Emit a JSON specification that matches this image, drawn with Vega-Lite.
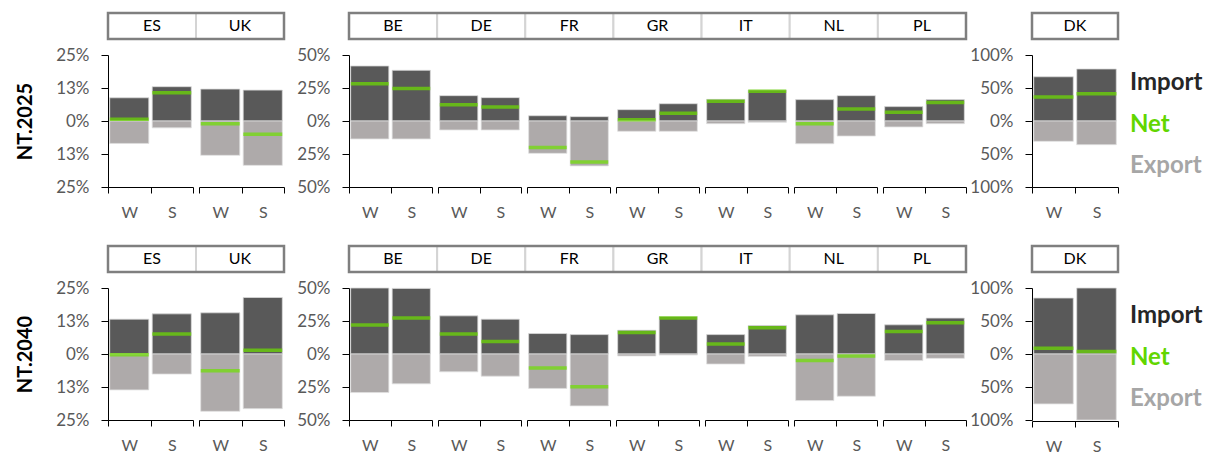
{
  "$schema": "https://vega.github.io/schema/vega-lite/v6.json",
  "padding": {"left": 15, "top": 11, "right": 5, "bottom": 0},
  "data": {"values": [
    {"scenario": "NT.2025", "country": "ES", "season": "W", "import": 8.8, "export": -8.5, "net": 0.7},
    {"scenario": "NT.2025", "country": "ES", "season": "S", "import": 13.0, "export": -2.6, "net": 10.7},
    {"scenario": "NT.2025", "country": "UK", "season": "W", "import": 12.1, "export": -13.0, "net": -1.0},
    {"scenario": "NT.2025", "country": "UK", "season": "S", "import": 11.7, "export": -16.8, "net": -5.0},
    {"scenario": "NT.2025", "country": "BE", "season": "W", "import": 41.7, "export": -13.6, "net": 28.3},
    {"scenario": "NT.2025", "country": "BE", "season": "S", "import": 38.4, "export": -13.6, "net": 24.7},
    {"scenario": "NT.2025", "country": "DE", "season": "W", "import": 19.2, "export": -6.8, "net": 12.4},
    {"scenario": "NT.2025", "country": "DE", "season": "S", "import": 17.7, "export": -6.8, "net": 10.6},
    {"scenario": "NT.2025", "country": "FR", "season": "W", "import": 4.0, "export": -24.5, "net": -20.0},
    {"scenario": "NT.2025", "country": "FR", "season": "S", "import": 3.3, "export": -34.0, "net": -31.0},
    {"scenario": "NT.2025", "country": "GR", "season": "W", "import": 8.6, "export": -7.8, "net": 1.0},
    {"scenario": "NT.2025", "country": "GR", "season": "S", "import": 13.1, "export": -7.8, "net": 5.8},
    {"scenario": "NT.2025", "country": "IT", "season": "W", "import": 16.4, "export": -2.0, "net": 14.9},
    {"scenario": "NT.2025", "country": "IT", "season": "S", "import": 23.5, "export": -1.0, "net": 22.5},
    {"scenario": "NT.2025", "country": "NL", "season": "W", "import": 16.2, "export": -17.2, "net": -2.0},
    {"scenario": "NT.2025", "country": "NL", "season": "S", "import": 19.2, "export": -11.4, "net": 9.1},
    {"scenario": "NT.2025", "country": "PL", "season": "W", "import": 10.9, "export": -4.5, "net": 6.6},
    {"scenario": "NT.2025", "country": "PL", "season": "S", "import": 16.2, "export": -2.0, "net": 14.1},
    {"scenario": "NT.2025", "country": "DK", "season": "W", "import": 67.0, "export": -30.8, "net": 36.4},
    {"scenario": "NT.2025", "country": "DK", "season": "S", "import": 78.8, "export": -35.9, "net": 41.4},
    {"scenario": "NT.2040", "country": "ES", "season": "W", "import": 13.2, "export": -13.6, "net": -0.3},
    {"scenario": "NT.2040", "country": "ES", "season": "S", "import": 15.2, "export": -7.6, "net": 7.6},
    {"scenario": "NT.2040", "country": "UK", "season": "W", "import": 15.6, "export": -21.7, "net": -6.3},
    {"scenario": "NT.2040", "country": "UK", "season": "S", "import": 21.4, "export": -20.7, "net": 1.4},
    {"scenario": "NT.2040", "country": "BE", "season": "W", "import": 50.0, "export": -29.2, "net": 22.0},
    {"scenario": "NT.2040", "country": "BE", "season": "S", "import": 49.7, "export": -22.6, "net": 27.2},
    {"scenario": "NT.2040", "country": "DE", "season": "W", "import": 28.9, "export": -13.5, "net": 15.2},
    {"scenario": "NT.2040", "country": "DE", "season": "S", "import": 26.4, "export": -16.8, "net": 9.4},
    {"scenario": "NT.2040", "country": "FR", "season": "W", "import": 15.5, "export": -26.1, "net": -10.7},
    {"scenario": "NT.2040", "country": "FR", "season": "S", "import": 14.7, "export": -39.3, "net": -24.9},
    {"scenario": "NT.2040", "country": "GR", "season": "W", "import": 18.0, "export": -1.5, "net": 16.2},
    {"scenario": "NT.2040", "country": "GR", "season": "S", "import": 28.4, "export": -0.8, "net": 27.2},
    {"scenario": "NT.2040", "country": "IT", "season": "W", "import": 14.7, "export": -7.6, "net": 7.6},
    {"scenario": "NT.2040", "country": "IT", "season": "S", "import": 21.6, "export": -1.8, "net": 19.8},
    {"scenario": "NT.2040", "country": "NL", "season": "W", "import": 29.7, "export": -35.3, "net": -5.0},
    {"scenario": "NT.2040", "country": "NL", "season": "S", "import": 30.7, "export": -32.0, "net": -1.5},
    {"scenario": "NT.2040", "country": "PL", "season": "W", "import": 22.1, "export": -5.0, "net": 17.0},
    {"scenario": "NT.2040", "country": "PL", "season": "S", "import": 27.2, "export": -3.3, "net": 23.6},
    {"scenario": "NT.2040", "country": "DK", "season": "W", "import": 84.8, "export": -75.6, "net": 8.6},
    {"scenario": "NT.2040", "country": "DK", "season": "S", "import": 100.0, "export": -100.0, "net": 3.6}
  ]},
  "config": {
    "font": "Lato",
    "view": {"stroke": null},
    "axisX": {"domainColor": "#000000", "tickColor": "#000000", "tickSize": 6, "labelColor": "#595959", "labelFontSize": 16, "labelPadding": 11, "labelAngle": 0, "grid": false},
    "axisY": {"domainColor": "#000000", "tickColor": "#000000", "tickSize": 7, "labelColor": "#595959", "labelFontSize": 17, "labelPadding": 12, "grid": false}
  },
  "spacing": 24,
  "vconcat": [
    {
      "spacing": 10,
      "hconcat": [
        {
          "spacing": 1,
          "hconcat": [
            {
              "spacing": 10,
              "hconcat": [
                {
                  "spacing": 5,
                  "vconcat": [
                    {
                      "width": 176, "height": 26,
                      "transform": [{"filter": "datum.scenario == 'NT.2025' && datum.season == 'W' && indexof(['ES','UK'], datum.country) >= 0"}],
                      "layer": [
                        {"mark": {"type": "rect", "fill": "#ffffff", "stroke": "#d4d4d4", "strokeWidth": 2}, "encoding": {"x": {"field": "country", "type": "nominal", "scale": {"paddingInner": 0, "paddingOuter": 0}, "axis": null}}},
                        {"mark": {"type": "text", "fontSize": 16, "color": "#000000"}, "encoding": {"x": {"field": "country", "type": "nominal", "axis": null}, "text": {"field": "country"}}},
                        {"transform": [{"aggregate": [{"op": "count", "as": "n"}]}], "mark": {"type": "rect", "fillOpacity": 0, "stroke": "#7f7f7f", "strokeWidth": 2.5}, "encoding": {}}
                      ]
                    },
                    {
                      "transform": [{"filter": "datum.scenario == 'NT.2025' && indexof(['ES','UK'], datum.country) >= 0"}],
                      "facet": {"column": {"field": "country", "type": "nominal", "header": null}},
                      "spacing": {"column": 6},
                      "spec": {
                        "width": 85, "height": 132,
                        "encoding": {"x": {"field": "season", "type": "nominal", "sort": ["W", "S"], "title": null, "scale": {"paddingInner": 0, "paddingOuter": 0}, "axis": {"tickBand": "extent"}}},
                        "layer": [
                          {"mark": {"type": "bar", "color": "#595959", "stroke": "#d9d9d9", "strokeWidth": 0.8, "width": {"band": 0.92}},
                           "encoding": {"y": {"field": "import", "type": "quantitative", "scale": {"domain": [-25, 25], "nice": false}, "axis": {"values": [-25, -12.5, 0, 12.5, 25], "labelExpr": "format(abs(datum.value), '.0f') + '%'", "title": "NT.2025", "titleFontSize": 20, "titleFontWeight": "bold", "titleColor": "#000000", "titlePadding": 20}}}},
                          {"mark": {"type": "bar", "color": "#aeaaaa", "stroke": "#e0e0e0", "strokeWidth": 0.8, "width": {"band": 0.92}},
                           "encoding": {"y": {"field": "export", "type": "quantitative", "axis": {"values": [-25, -12.5, 0, 12.5, 25], "labelExpr": "format(abs(datum.value), '.0f') + '%'", "title": "NT.2025", "titleFontSize": 20, "titleFontWeight": "bold", "titleColor": "#000000", "titlePadding": 20}}}},
                          {"mark": {"type": "tick", "color": "#6ee000", "thickness": 3.5, "size": 39, "orient": "horizontal"},
                           "encoding": {"y": {"field": "net", "type": "quantitative", "axis": {"values": [-25, -12.5, 0, 12.5, 25], "labelExpr": "format(abs(datum.value), '.0f') + '%'", "title": "NT.2025", "titleFontSize": 20, "titleFontWeight": "bold", "titleColor": "#000000", "titlePadding": 20}}}}
                        ]
                      }
                    }
                  ]
                },
                {
                  "spacing": 5,
                  "vconcat": [
                    {
                      "width": 617, "height": 26,
                      "transform": [{"filter": "datum.scenario == 'NT.2025' && datum.season == 'W' && indexof(['BE','DE','FR','GR','IT','NL','PL'], datum.country) >= 0"}],
                      "layer": [
                        {"mark": {"type": "rect", "fill": "#ffffff", "stroke": "#d4d4d4", "strokeWidth": 2}, "encoding": {"x": {"field": "country", "type": "nominal", "scale": {"paddingInner": 0, "paddingOuter": 0}, "axis": null}}},
                        {"mark": {"type": "text", "fontSize": 16, "color": "#000000"}, "encoding": {"x": {"field": "country", "type": "nominal", "axis": null}, "text": {"field": "country"}}},
                        {"transform": [{"aggregate": [{"op": "count", "as": "n"}]}], "mark": {"type": "rect", "fillOpacity": 0, "stroke": "#7f7f7f", "strokeWidth": 2.5}, "encoding": {}}
                      ]
                    },
                    {
                      "transform": [{"filter": "datum.scenario == 'NT.2025' && indexof(['BE','DE','FR','GR','IT','NL','PL'], datum.country) >= 0"}],
                      "facet": {"column": {"field": "country", "type": "nominal", "header": null}},
                      "spacing": {"column": 6},
                      "spec": {
                        "width": 83, "height": 132,
                        "encoding": {"x": {"field": "season", "type": "nominal", "sort": ["W", "S"], "title": null, "scale": {"paddingInner": 0, "paddingOuter": 0}, "axis": {"tickBand": "extent"}}},
                        "layer": [
                          {"mark": {"type": "bar", "color": "#595959", "stroke": "#d9d9d9", "strokeWidth": 0.8, "width": {"band": 0.92}},
                           "encoding": {"y": {"field": "import", "type": "quantitative", "scale": {"domain": [-50, 50], "nice": false}, "axis": {"values": [-50, -25, 0, 25, 50], "labelExpr": "format(abs(datum.value), '.0f') + '%'", "title": null}}}},
                          {"mark": {"type": "bar", "color": "#aeaaaa", "stroke": "#e0e0e0", "strokeWidth": 0.8, "width": {"band": 0.92}},
                           "encoding": {"y": {"field": "export", "type": "quantitative", "axis": {"values": [-50, -25, 0, 25, 50], "labelExpr": "format(abs(datum.value), '.0f') + '%'", "title": null}}}},
                          {"mark": {"type": "tick", "color": "#6ee000", "thickness": 3.5, "size": 38, "orient": "horizontal"},
                           "encoding": {"y": {"field": "net", "type": "quantitative", "axis": {"values": [-50, -25, 0, 25, 50], "labelExpr": "format(abs(datum.value), '.0f') + '%'", "title": null}}}}
                        ]
                      }
                    }
                  ]
                }
              ]
            },
            {
              "spacing": 5,
              "vconcat": [
                {
                  "width": 86, "height": 26,
                  "transform": [{"filter": "datum.scenario == 'NT.2025' && datum.season == 'W' && datum.country == 'DK'"}],
                  "layer": [
                    {"mark": {"type": "rect", "fill": "#ffffff", "stroke": "#d4d4d4", "strokeWidth": 2}, "encoding": {"x": {"field": "country", "type": "nominal", "scale": {"paddingInner": 0, "paddingOuter": 0}, "axis": null}}},
                    {"mark": {"type": "text", "fontSize": 16, "color": "#000000"}, "encoding": {"x": {"field": "country", "type": "nominal", "axis": null}, "text": {"field": "country"}}},
                    {"transform": [{"aggregate": [{"op": "count", "as": "n"}]}], "mark": {"type": "rect", "fillOpacity": 0, "stroke": "#7f7f7f", "strokeWidth": 2.5}, "encoding": {}}
                  ]
                },
                {
                  "transform": [{"filter": "datum.scenario == 'NT.2025' && datum.country == 'DK'"}],
                  "facet": {"column": {"field": "country", "type": "nominal", "header": null}},
                  "spacing": {"column": 6},
                  "spec": {
                    "width": 86, "height": 132,
                    "encoding": {"x": {"field": "season", "type": "nominal", "sort": ["W", "S"], "title": null, "scale": {"paddingInner": 0, "paddingOuter": 0}, "axis": {"tickBand": "extent"}}},
                    "layer": [
                      {"mark": {"type": "bar", "color": "#595959", "stroke": "#d9d9d9", "strokeWidth": 0.8, "width": {"band": 0.92}},
                       "encoding": {"y": {"field": "import", "type": "quantitative", "scale": {"domain": [-100, 100], "nice": false}, "axis": {"values": [-100, -50, 0, 50, 100], "labelExpr": "format(abs(datum.value), '.0f') + '%'", "title": null}}}},
                      {"mark": {"type": "bar", "color": "#aeaaaa", "stroke": "#e0e0e0", "strokeWidth": 0.8, "width": {"band": 0.92}},
                       "encoding": {"y": {"field": "export", "type": "quantitative", "axis": {"values": [-100, -50, 0, 50, 100], "labelExpr": "format(abs(datum.value), '.0f') + '%'", "title": null}}}},
                      {"mark": {"type": "tick", "color": "#6ee000", "thickness": 3.5, "size": 40, "orient": "horizontal"},
                       "encoding": {"y": {"field": "net", "type": "quantitative", "axis": {"values": [-100, -50, 0, 50, 100], "labelExpr": "format(abs(datum.value), '.0f') + '%'", "title": null}}}}
                    ]
                  }
                }
              ]
            }
          ]
        },
        {
          "width": 78, "height": 175,
          "data": {"values": [{"label": "Import"}, {"label": "Net"}, {"label": "Export"}]},
          "mark": {"type": "text", "fontSize": 24, "fontWeight": "bold", "align": "left", "baseline": "middle"},
          "encoding": {
            "x": {"value": 0},
            "y": {"field": "label", "type": "nominal", "sort": ["Import", "Net", "Export"], "scale": {"type": "point", "range": [70, 153], "padding": 0}, "axis": null},
            "text": {"field": "label"},
            "color": {"field": "label", "type": "nominal", "scale": {"domain": ["Import", "Net", "Export"], "range": ["#262626", "#62d600", "#a6a6a6"]}, "legend": null}
          }
        }
      ]
    },
    {
      "spacing": 10,
      "hconcat": [
        {
          "spacing": 1,
          "hconcat": [
            {
              "spacing": 10,
              "hconcat": [
                {
                  "spacing": 5,
                  "vconcat": [
                    {
                      "width": 176, "height": 26,
                      "transform": [{"filter": "datum.scenario == 'NT.2040' && datum.season == 'W' && indexof(['ES','UK'], datum.country) >= 0"}],
                      "layer": [
                        {"mark": {"type": "rect", "fill": "#ffffff", "stroke": "#d4d4d4", "strokeWidth": 2}, "encoding": {"x": {"field": "country", "type": "nominal", "scale": {"paddingInner": 0, "paddingOuter": 0}, "axis": null}}},
                        {"mark": {"type": "text", "fontSize": 16, "color": "#000000"}, "encoding": {"x": {"field": "country", "type": "nominal", "axis": null}, "text": {"field": "country"}}},
                        {"transform": [{"aggregate": [{"op": "count", "as": "n"}]}], "mark": {"type": "rect", "fillOpacity": 0, "stroke": "#7f7f7f", "strokeWidth": 2.5}, "encoding": {}}
                      ]
                    },
                    {
                      "transform": [{"filter": "datum.scenario == 'NT.2040' && indexof(['ES','UK'], datum.country) >= 0"}],
                      "facet": {"column": {"field": "country", "type": "nominal", "header": null}},
                      "spacing": {"column": 6},
                      "spec": {
                        "width": 85, "height": 132,
                        "encoding": {"x": {"field": "season", "type": "nominal", "sort": ["W", "S"], "title": null, "scale": {"paddingInner": 0, "paddingOuter": 0}, "axis": {"tickBand": "extent"}}},
                        "layer": [
                          {"mark": {"type": "bar", "color": "#595959", "stroke": "#d9d9d9", "strokeWidth": 0.8, "width": {"band": 0.92}},
                           "encoding": {"y": {"field": "import", "type": "quantitative", "scale": {"domain": [-25, 25], "nice": false}, "axis": {"values": [-25, -12.5, 0, 12.5, 25], "labelExpr": "format(abs(datum.value), '.0f') + '%'", "title": "NT.2040", "titleFontSize": 20, "titleFontWeight": "bold", "titleColor": "#000000", "titlePadding": 20}}}},
                          {"mark": {"type": "bar", "color": "#aeaaaa", "stroke": "#e0e0e0", "strokeWidth": 0.8, "width": {"band": 0.92}},
                           "encoding": {"y": {"field": "export", "type": "quantitative", "axis": {"values": [-25, -12.5, 0, 12.5, 25], "labelExpr": "format(abs(datum.value), '.0f') + '%'", "title": "NT.2040", "titleFontSize": 20, "titleFontWeight": "bold", "titleColor": "#000000", "titlePadding": 20}}}},
                          {"mark": {"type": "tick", "color": "#6ee000", "thickness": 3.5, "size": 39, "orient": "horizontal"},
                           "encoding": {"y": {"field": "net", "type": "quantitative", "axis": {"values": [-25, -12.5, 0, 12.5, 25], "labelExpr": "format(abs(datum.value), '.0f') + '%'", "title": "NT.2040", "titleFontSize": 20, "titleFontWeight": "bold", "titleColor": "#000000", "titlePadding": 20}}}}
                        ]
                      }
                    }
                  ]
                },
                {
                  "spacing": 5,
                  "vconcat": [
                    {
                      "width": 617, "height": 26,
                      "transform": [{"filter": "datum.scenario == 'NT.2040' && datum.season == 'W' && indexof(['BE','DE','FR','GR','IT','NL','PL'], datum.country) >= 0"}],
                      "layer": [
                        {"mark": {"type": "rect", "fill": "#ffffff", "stroke": "#d4d4d4", "strokeWidth": 2}, "encoding": {"x": {"field": "country", "type": "nominal", "scale": {"paddingInner": 0, "paddingOuter": 0}, "axis": null}}},
                        {"mark": {"type": "text", "fontSize": 16, "color": "#000000"}, "encoding": {"x": {"field": "country", "type": "nominal", "axis": null}, "text": {"field": "country"}}},
                        {"transform": [{"aggregate": [{"op": "count", "as": "n"}]}], "mark": {"type": "rect", "fillOpacity": 0, "stroke": "#7f7f7f", "strokeWidth": 2.5}, "encoding": {}}
                      ]
                    },
                    {
                      "transform": [{"filter": "datum.scenario == 'NT.2040' && indexof(['BE','DE','FR','GR','IT','NL','PL'], datum.country) >= 0"}],
                      "facet": {"column": {"field": "country", "type": "nominal", "header": null}},
                      "spacing": {"column": 6},
                      "spec": {
                        "width": 83, "height": 132,
                        "encoding": {"x": {"field": "season", "type": "nominal", "sort": ["W", "S"], "title": null, "scale": {"paddingInner": 0, "paddingOuter": 0}, "axis": {"tickBand": "extent"}}},
                        "layer": [
                          {"mark": {"type": "bar", "color": "#595959", "stroke": "#d9d9d9", "strokeWidth": 0.8, "width": {"band": 0.92}},
                           "encoding": {"y": {"field": "import", "type": "quantitative", "scale": {"domain": [-50, 50], "nice": false}, "axis": {"values": [-50, -25, 0, 25, 50], "labelExpr": "format(abs(datum.value), '.0f') + '%'", "title": null}}}},
                          {"mark": {"type": "bar", "color": "#aeaaaa", "stroke": "#e0e0e0", "strokeWidth": 0.8, "width": {"band": 0.92}},
                           "encoding": {"y": {"field": "export", "type": "quantitative", "axis": {"values": [-50, -25, 0, 25, 50], "labelExpr": "format(abs(datum.value), '.0f') + '%'", "title": null}}}},
                          {"mark": {"type": "tick", "color": "#6ee000", "thickness": 3.5, "size": 38, "orient": "horizontal"},
                           "encoding": {"y": {"field": "net", "type": "quantitative", "axis": {"values": [-50, -25, 0, 25, 50], "labelExpr": "format(abs(datum.value), '.0f') + '%'", "title": null}}}}
                        ]
                      }
                    }
                  ]
                }
              ]
            },
            {
              "spacing": 5,
              "vconcat": [
                {
                  "width": 86, "height": 26,
                  "transform": [{"filter": "datum.scenario == 'NT.2040' && datum.season == 'W' && datum.country == 'DK'"}],
                  "layer": [
                    {"mark": {"type": "rect", "fill": "#ffffff", "stroke": "#d4d4d4", "strokeWidth": 2}, "encoding": {"x": {"field": "country", "type": "nominal", "scale": {"paddingInner": 0, "paddingOuter": 0}, "axis": null}}},
                    {"mark": {"type": "text", "fontSize": 16, "color": "#000000"}, "encoding": {"x": {"field": "country", "type": "nominal", "axis": null}, "text": {"field": "country"}}},
                    {"transform": [{"aggregate": [{"op": "count", "as": "n"}]}], "mark": {"type": "rect", "fillOpacity": 0, "stroke": "#7f7f7f", "strokeWidth": 2.5}, "encoding": {}}
                  ]
                },
                {
                  "transform": [{"filter": "datum.scenario == 'NT.2040' && datum.country == 'DK'"}],
                  "facet": {"column": {"field": "country", "type": "nominal", "header": null}},
                  "spacing": {"column": 6},
                  "spec": {
                    "width": 86, "height": 132,
                    "encoding": {"x": {"field": "season", "type": "nominal", "sort": ["W", "S"], "title": null, "scale": {"paddingInner": 0, "paddingOuter": 0}, "axis": {"tickBand": "extent"}}},
                    "layer": [
                      {"mark": {"type": "bar", "color": "#595959", "stroke": "#d9d9d9", "strokeWidth": 0.8, "width": {"band": 0.92}},
                       "encoding": {"y": {"field": "import", "type": "quantitative", "scale": {"domain": [-100, 100], "nice": false}, "axis": {"values": [-100, -50, 0, 50, 100], "labelExpr": "format(abs(datum.value), '.0f') + '%'", "title": null}}}},
                      {"mark": {"type": "bar", "color": "#aeaaaa", "stroke": "#e0e0e0", "strokeWidth": 0.8, "width": {"band": 0.92}},
                       "encoding": {"y": {"field": "export", "type": "quantitative", "axis": {"values": [-100, -50, 0, 50, 100], "labelExpr": "format(abs(datum.value), '.0f') + '%'", "title": null}}}},
                      {"mark": {"type": "tick", "color": "#6ee000", "thickness": 3.5, "size": 40, "orient": "horizontal"},
                       "encoding": {"y": {"field": "net", "type": "quantitative", "axis": {"values": [-100, -50, 0, 50, 100], "labelExpr": "format(abs(datum.value), '.0f') + '%'", "title": null}}}}
                    ]
                  }
                }
              ]
            }
          ]
        },
        {
          "width": 78, "height": 175,
          "data": {"values": [{"label": "Import"}, {"label": "Net"}, {"label": "Export"}]},
          "mark": {"type": "text", "fontSize": 24, "fontWeight": "bold", "align": "left", "baseline": "middle"},
          "encoding": {
            "x": {"value": 0},
            "y": {"field": "label", "type": "nominal", "sort": ["Import", "Net", "Export"], "scale": {"type": "point", "range": [70, 153], "padding": 0}, "axis": null},
            "text": {"field": "label"},
            "color": {"field": "label", "type": "nominal", "scale": {"domain": ["Import", "Net", "Export"], "range": ["#262626", "#62d600", "#a6a6a6"]}, "legend": null}
          }
        }
      ]
    }
  ]
}
